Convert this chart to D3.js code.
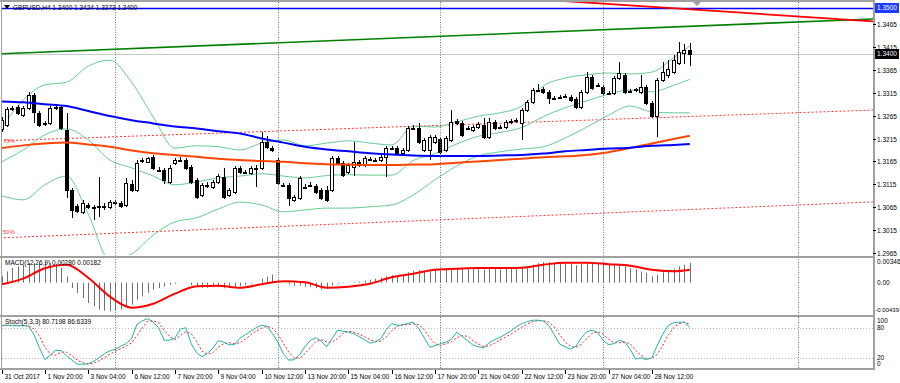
<!DOCTYPE html>
<html>
<head>
<meta charset="utf-8">
<script src="https://d3js.org/d3.v7.min.js"></script>
<style>
body { margin: 0; background: #fff; }
svg { display: block; font-family: "Liberation Sans", Arial, sans-serif; font-size: 6.5px; }
</style>
</head>
<body>
<svg id="chart" width="900" height="383"></svg>
<script>
// ---- data (GBPUSD H4, 31 Oct - 29 Nov 2017) ----
var opens = [1.3236,1.3245,1.3279,1.3284,1.3266,1.3282,1.3310,1.3271,1.3247,1.3249,
 1.3282,1.3284,1.3234,1.3103,1.3068,1.3055,1.3070,1.3066,1.3066,1.3068,
 1.3066,1.3076,1.3074,1.3070,1.3116,1.3103,1.3166,1.3164,1.3175,1.3146,
 1.3147,1.3120,1.3162,1.3168,1.3168,1.3153,1.3125,1.3092,1.3114,1.3109,
 1.3120,1.3131,1.3092,1.3098,1.3151,1.3142,1.3140,1.3151,1.3151,1.3207,
 1.3194,1.3168,1.3114,1.3114,1.3081,1.3085,1.3109,1.3114,1.3111,1.3103,
 1.3103,1.3103,1.3173,1.3162,1.3142,1.3153,1.3164,1.3157,1.3170,1.3168,
 1.3168,1.3175,1.3194,1.3194,1.3183,1.3190,1.3238,1.3238,1.3190,1.3190,
 1.3207,1.3214,1.3190,1.3212,1.3253,1.3249,1.3238,1.3234,1.3240,1.3245,
 1.3218,1.3251,1.3240,1.3240,1.3251,1.3255,1.3249,1.3277,1.3295,1.3321,
 1.3323,1.3317,1.3304,1.3306,1.3308,1.3306,1.3301,1.3284,1.3317,1.3349,
 1.3332,1.3328,1.3314,1.3314,1.3347,1.3354,1.3319,1.3321,1.3317,1.3328,
 1.3293,1.3264,1.3343,1.3354,1.3360,1.3380,1.3402,1.3408];
var highs = [1.3262,1.3284,1.3286,1.3288,1.3286,1.3317,1.3314,1.3275,1.3253,1.3286,
 1.3288,1.3288,1.3271,1.3107,1.3072,1.3081,1.3074,1.3070,1.3131,1.3074,
 1.3081,1.3081,1.3079,1.3129,1.3125,1.3168,1.3173,1.3175,1.3179,1.3153,
 1.3151,1.3157,1.3173,1.3175,1.3173,1.3157,1.3129,1.3118,1.3120,1.3125,
 1.3138,1.3151,1.3107,1.3155,1.3155,1.3146,1.3155,1.3157,1.3229,1.3221,
 1.3199,1.3173,1.3118,1.3118,1.3092,1.3133,1.3116,1.3120,1.3116,1.3107,
 1.3111,1.3177,1.3177,1.3166,1.3162,1.3207,1.3168,1.3177,1.3175,1.3173,
 1.3179,1.3199,1.3199,1.3199,1.3194,1.3242,1.3245,1.3249,1.3216,1.3223,
 1.3223,1.3218,1.3221,1.3277,1.3258,1.3253,1.3242,1.3245,1.3251,1.3260,
 1.3260,1.3256,1.3245,1.3256,1.3258,1.3260,1.3282,1.3299,1.3325,1.3334,
 1.3328,1.3321,1.3308,1.3310,1.3312,1.3310,1.3306,1.3321,1.3360,1.3354,
 1.3336,1.3332,1.3319,1.3352,1.3382,1.3358,1.3323,1.3325,1.3354,1.3332,
 1.3297,1.3347,1.3382,1.3386,1.3397,1.3426,1.3421,1.3424];
var lows = [1.3229,1.3240,1.3275,1.3266,1.3262,1.3277,1.3249,1.3240,1.3242,1.3245,
 1.3277,1.3234,1.3085,1.3042,1.3052,1.3050,1.3061,1.3037,1.3044,1.3059,
 1.3061,1.3070,1.3063,1.3066,1.3098,1.3098,1.3162,1.3162,1.3146,1.3142,
 1.3116,1.3116,1.3157,1.3164,1.3146,1.3116,1.3083,1.3087,1.3107,1.3105,
 1.3116,1.3083,1.3087,1.3094,1.3138,1.3138,1.3135,1.3109,1.3146,1.3192,
 1.3186,1.3114,1.3109,1.3068,1.3076,1.3081,1.3105,1.3109,1.3094,1.3081,
 1.3076,1.3098,1.3157,1.3131,1.3138,1.3133,1.3153,1.3153,1.3166,1.3164,
 1.3164,1.3131,1.3190,1.3179,1.3179,1.3186,1.3234,1.3203,1.3186,1.3168,
 1.3203,1.3181,1.3186,1.3207,1.3245,1.3218,1.3234,1.3229,1.3236,1.3214,
 1.3214,1.3234,1.3236,1.3236,1.3247,1.3249,1.3212,1.3273,1.3290,1.3317,
 1.3312,1.3290,1.3299,1.3301,1.3304,1.3295,1.3279,1.3279,1.3312,1.3321,
 1.3328,1.3310,1.3310,1.3310,1.3343,1.3312,1.3314,1.3317,1.3312,1.3288,
 1.3260,1.3218,1.3338,1.3347,1.3356,1.3376,1.3378,1.3373];
var closes = [1.3255,1.3279,1.3282,1.3271,1.3282,1.3310,1.3273,1.3245,1.3249,1.3282,
 1.3284,1.3238,1.3103,1.3059,1.3057,1.3074,1.3066,1.3064,1.3068,1.3066,
 1.3076,1.3074,1.3068,1.3118,1.3103,1.3162,1.3168,1.3173,1.3151,1.3147,
 1.3125,1.3151,1.3168,1.3167,1.3151,1.3120,1.3087,1.3114,1.3113,1.3120,
 1.3133,1.3087,1.3103,1.3151,1.3142,1.3141,1.3151,1.3150,1.3207,1.3197,
 1.3190,1.3118,1.3113,1.3085,1.3087,1.3129,1.3108,1.3113,1.3098,1.3085,
 1.3081,1.3173,1.3162,1.3135,1.3157,1.3164,1.3157,1.3173,1.3171,1.3167,
 1.3175,1.3194,1.3195,1.3183,1.3190,1.3238,1.3237,1.3207,1.3212,1.3218,
 1.3218,1.3186,1.3216,1.3251,1.3249,1.3223,1.3237,1.3240,1.3247,1.3218,
 1.3251,1.3238,1.3239,1.3251,1.3253,1.3254,1.3277,1.3295,1.3321,1.3320,
 1.3317,1.3304,1.3303,1.3305,1.3307,1.3299,1.3284,1.3317,1.3349,1.3325,
 1.3331,1.3314,1.3315,1.3347,1.3358,1.3317,1.3318,1.3322,1.3328,1.3293,
 1.3264,1.3343,1.3360,1.3367,1.3386,1.3404,1.3408,1.3400];

// indicator lines, read every 4th bar
var lineIdx = [0,4,8,12,16,20,24,28,32,36,40,44,48,52,56,60,64,68,72,76,80,84,88,92,96,100,104,108,112,116,120,124,127];
var maBlue = [1.3296,1.3294,1.3290,1.3286,1.3275,1.3264,1.3255,1.3248,1.3241,1.3237,1.3231,1.3226,1.3215,1.3206,1.3197,1.3191,
 1.3187,1.3183,1.3180,1.3178,1.3177,1.3177,1.3177,1.3178,1.3179,1.3182,1.3187,1.3190,1.3193,1.3195,1.3199,1.3201,1.3203];
var maOrange = [1.3194,1.3200,1.3204,1.3206,1.3202,1.3197,1.3189,1.3183,1.3179,1.3175,1.3171,1.3168,1.3166,1.3164,1.3161,1.3159,
 1.3158,1.3157,1.3157,1.3158,1.3159,1.3162,1.3165,1.3168,1.3171,1.3174,1.3176,1.3179,1.3185,1.3194,1.3204,1.3214,1.3221];
var bbUpper = [1.3238,1.3299,1.3332,1.3338,1.3373,1.3386,1.3338,1.3262,1.3194,1.3199,1.3197,1.3190,1.3205,1.3212,1.3199,1.3205,
 1.3210,1.3205,1.3201,1.3242,1.3240,1.3251,1.3264,1.3271,1.3286,1.3330,1.3347,1.3354,1.3358,1.3356,1.3360,1.3391,1.3417];
var bbMiddle = [1.3164,1.3190,1.3223,1.3236,1.3212,1.3168,1.3151,1.3133,1.3114,1.3120,1.3129,1.3133,1.3138,1.3133,1.3129,1.3134,
 1.3136,1.3135,1.3135,1.3167,1.3182,1.3203,1.3220,1.3228,1.3239,1.3263,1.3282,1.3297,1.3312,1.3321,1.3317,1.3331,1.3344];
var bbLower = [1.3090,1.3081,1.3114,1.3133,1.3050,1.2950,1.2963,1.3004,1.3033,1.3042,1.3061,1.3076,1.3070,1.3055,1.3059,1.3063,
 1.3063,1.3066,1.3070,1.3092,1.3125,1.3155,1.3177,1.3186,1.3192,1.3197,1.3216,1.3240,1.3266,1.3286,1.3273,1.3271,1.3271];
var macdSignal = [-0.00024,0.00056,0.00203,0.00252,0.00070,-0.00196,-0.00351,-0.00295,-0.00154,-0.00049,-0.00042,-0.00070,-0.00021,
 0.00021,0.00007,-0.00070,-0.00056,-0.00014,0.00077,0.00126,0.00182,0.00196,0.00206,0.00206,0.00210,0.00252,0.00280,0.00280,
 0.00259,0.00238,0.00182,0.00161,0.00182];

var macdMain = [0.00088,0.00158,0.00206,0.00229,0.00252,0.00276,0.00276,0.00276,0.00285,0.00276,
 0.00266,0.00206,0.00088,-0.00074,-0.00144,-0.00215,-0.00285,-0.00332,-0.00379,-0.00393,
 -0.00403,-0.00393,-0.00379,-0.00332,-0.00309,-0.00238,-0.00192,-0.00144,-0.00098,-0.00074,
 -0.00052,-0.00028,-0.00014,-0.00004,-0.00007,-0.00035,-0.00056,-0.00070,-0.00070,-0.00063,
 -0.00063,-0.00077,-0.00070,-0.00063,-0.00049,-0.00035,-0.00014,0.00001,0.00056,0.00084,
 0.00112,0.00042,0.00001,-0.00028,-0.00049,-0.00042,-0.00056,-0.00063,-0.00077,-0.00091,
 -0.00084,-0.00042,-0.00014,-0.00007,0.00002,0.00007,0.00014,0.00028,0.00042,0.00056,
 0.00070,0.00091,0.00105,0.00105,0.00112,0.00147,0.00168,0.00175,0.00168,0.00175,
 0.00182,0.00168,0.00182,0.00203,0.00210,0.00196,0.00196,0.00189,0.00196,0.00182,
 0.00196,0.00189,0.00189,0.00196,0.00196,0.00196,0.00210,0.00231,0.00252,0.00273,
 0.00288,0.00288,0.00280,0.00266,0.00273,0.00266,0.00245,0.00266,0.00280,0.00273,
 0.00273,0.00273,0.00266,0.00252,0.00245,0.00231,0.00206,0.00189,0.00158,0.00136,
 0.00088,0.00112,0.00147,0.00182,0.00196,0.00229,0.00252,0.00280];

var stochMain = [85,85,84,84,84,83,66,40,16,25,35,34,24,15,7,7,8,13,20,28,
 34,37,43,48,58,87,94,98,91,80,55,55,59,77,80,48,30,22,29,39,
 54,51,46,46,59,66,73,80,85,83,68,51,28,15,16,26,42,55,60,53,
 42,58,75,73,71,68,62,56,49,52,58,76,88,85,85,89,91,78,60,41,
 44,48,51,57,71,63,54,45,42,40,50,56,61,67,73,82,88,92,95,95,
 93,84,66,47,42,37,43,60,72,75,70,55,46,48,55,51,37,17,20,16,
 20,45,67,84,90,91,91,80.72];
var stochSignal = [84,84,85,84,84,84,78,63,41,27,25,31,31,24,15,10,7,9,14,20,
 27,33,38,43,50,64,80,93,94,90,75,63,56,64,72,68,53,33,27,30,
 41,48,50,48,50,57,66,73,79,83,79,67,49,31,20,19,28,41,52,56,
 52,51,58,69,73,71,67,62,56,52,53,62,74,83,86,86,88,86,76,60,
 48,44,48,52,60,64,63,54,47,42,44,49,56,61,67,74,81,87,92,94,
 94,91,81,66,52,42,41,47,58,69,72,67,57,50,50,51,48,35,25,18,
 19,27,44,65,80,88,91,86.63];

// drawn objects: [bar index, price]
var trendGreen = [[0, 1.3400], [127, 1.3460]];
var trendRed = [[100, 1.3518], [127, 1.3497]];
var channelUpper = [[0, 1.3210], [127, 1.3263]];
var channelLower = [[0, 1.2998], [127, 1.3060]];
var levelLine = 1.3500;
var bidPrice = 1.3400;

var timeLabels = ["31 Oct 2017","1 Nov 20:00","3 Nov 04:00","6 Nov 12:00","7 Nov 20:00","9 Nov 04:00",
 "10 Nov 12:00","13 Nov 20:00","15 Nov 04:00","16 Nov 12:00","17 Nov 20:00","21 Nov 04:00",
 "22 Nov 12:00","23 Nov 20:00","27 Nov 04:00","28 Nov 12:00"];
var weekStarts = [21, 51, 81, 111, 147];
var priceTicks = [1.2965,1.3015,1.3065,1.3115,1.3165,1.3215,1.3265,1.3315,1.3365,1.3415,1.3465];

// ---- layout ----
var width = 900, height = 383;
var plotRight = 873;
var mainTop = 2, mainBottom = 255;
var macdTop = 258, macdBottom = 314;
var stochTop = 317, stochBottom = 368;

var svg = d3.select('#chart');

var x = d3.scaleLinear().domain([0, 127]).range([1.5, 689.8]);
var yMain = d3.scaleLinear().domain([1.2965, 1.3465]).range([253, 24]);
var yMacd = d3.scaleLinear().domain([-0.00439, 0.00346]).range([314, 258]);
var yStoch = d3.scaleLinear().domain([0, 100]).range([367.7, 317.7]);

var defs = svg.append('defs');
function clip(id, y0, y1) {
    defs.append('clipPath').attr('id', id).append('rect')
        .attr('x', 2).attr('y', y0).attr('width', plotRight - 2).attr('height', y1 - y0);
}
clip('cMain', mainTop, mainBottom);
clip('cMacd', macdTop, macdBottom);
clip('cStoch', stochTop, stochBottom);

var gMain = svg.append('g').attr('clip-path', 'url(#cMain)');
var gMacd = svg.append('g').attr('clip-path', 'url(#cMacd)');
var gStoch = svg.append('g').attr('clip-path', 'url(#cStoch)');

// week separators (dotted, through every window)
svg.selectAll('line.grid').data(weekStarts).enter().append('line')
    .attr('x1', function(d) { return Math.round(x(d)) + 0.5; })
    .attr('x2', function(d) { return Math.round(x(d)) + 0.5; })
    .attr('y1', mainTop).attr('y2', stochBottom)
    .attr('stroke', '#707070').attr('stroke-dasharray', '1,1.5');

// bid line and horizontal level
gMain.append('line').attr('x1', 2).attr('x2', plotRight)
    .attr('y1', Math.round(yMain(bidPrice)) + 0.5).attr('y2', Math.round(yMain(bidPrice)) + 0.5)
    .attr('stroke', '#c8c8c8');
gMain.append('line').attr('x1', 2).attr('x2', plotRight)
    .attr('y1', Math.round(yMain(levelLine)) + 0.5).attr('y2', Math.round(yMain(levelLine)) + 0.5)
    .attr('stroke', '#0000ff').attr('stroke-width', 1.3);

// straight objects extended across the window
function ray(pts) {
    var i0 = x.invert(0), i1 = x.invert(plotRight);
    var k = (pts[1][1] - pts[0][1]) / (pts[1][0] - pts[0][0]);
    return [[x(i0), yMain(pts[0][1] + k * (i0 - pts[0][0]))], [x(i1), yMain(pts[0][1] + k * (i1 - pts[0][0]))]];
}
var plain = d3.line();
gMain.append('path').attr('d', plain(ray(channelUpper))).attr('fill', 'none')
    .attr('stroke', '#ff3030').attr('stroke-dasharray', '2,2');
gMain.append('path').attr('d', plain(ray(channelLower))).attr('fill', 'none')
    .attr('stroke', '#ff3030').attr('stroke-dasharray', '2,2');
gMain.append('path').attr('d', plain(ray(trendGreen))).attr('fill', 'none')
    .attr('stroke', '#008000').attr('stroke-width', 1.6);
gMain.append('path').attr('d', plain(ray(trendRed))).attr('fill', 'none')
    .attr('stroke', '#ff0000').attr('stroke-width', 1.8);

gMain.append('text').attr('x', 3).attr('y', yMain(channelUpper[0][1]) + 2)
    .attr('fill', '#ff4040').style('font-size', '6px').text('75%');
gMain.append('text').attr('x', 3).attr('y', yMain(channelLower[0][1]) - 4)
    .attr('fill', '#ff4040').style('font-size', '6px').text('50%');

// bollinger bands
function sampled(values, yScale) {
    return d3.line().curve(d3.curveMonotoneX)
        .x(function(d, i) { return x(lineIdx[i]); })
        .y(function(d) { return yScale(d); })(values);
}
[bbUpper, bbMiddle, bbLower].forEach(function(band) {
    gMain.append('path').attr('d', sampled(band, yMain)).attr('fill', 'none')
        .attr('stroke', '#66cc94').attr('stroke-width', 1);
});

// candles
var bars = d3.range(opens.length).map(function(i) {
    return { i: i, o: opens[i], h: highs[i], l: lows[i], c: closes[i] };
});
var candle = gMain.selectAll('g.candle').data(bars).enter().append('g').attr('class', 'candle')
    .attr('shape-rendering', 'crispEdges');
candle.append('line')
    .attr('x1', function(d) { return Math.round(x(d.i)) + 0.5; })
    .attr('x2', function(d) { return Math.round(x(d.i)) + 0.5; })
    .attr('y1', function(d) { return yMain(d.h); })
    .attr('y2', function(d) { return yMain(d.l); })
    .attr('stroke', '#000');
candle.append('rect')
    .attr('x', function(d) { return Math.round(x(d.i)) - 1.5; })
    .attr('y', function(d) { return Math.round(yMain(Math.max(d.o, d.c))) + 0.5; })
    .attr('width', 3)
    .attr('height', function(d) { return Math.max(1, Math.round(Math.abs(yMain(d.o) - yMain(d.c)))); })
    .attr('fill', function(d) { return d.c >= d.o ? '#fff' : '#000'; })
    .attr('stroke', '#000');

// moving averages
gMain.append('path').attr('d', sampled(maOrange, yMain)).attr('fill', 'none')
    .attr('stroke', '#ff4500').attr('stroke-width', 2);
gMain.append('path').attr('d', sampled(maBlue, yMain)).attr('fill', 'none')
    .attr('stroke', '#0000ff').attr('stroke-width', 2);

// MACD window
gMacd.selectAll('line.hist').data(macdMain).enter().append('line')
    .attr('x1', function(d, i) { return Math.round(x(i)) + 0.5; })
    .attr('x2', function(d, i) { return Math.round(x(i)) + 0.5; })
    .attr('y1', yMacd(0)).attr('y2', function(d) { return yMacd(d); })
    .attr('stroke', '#707070').attr('stroke-width', 1);
gMacd.append('path').attr('d', sampled(macdSignal, yMacd)).attr('fill', 'none')
    .attr('stroke', '#ff0000').attr('stroke-width', 2);

// Stochastic window
[80, 20].forEach(function(v) {
    gStoch.append('line').attr('x1', 2).attr('x2', plotRight)
        .attr('y1', Math.round(yStoch(v)) + 0.5).attr('y2', Math.round(yStoch(v)) + 0.5)
        .attr('stroke', '#b8b8b8').attr('stroke-dasharray', '1,2');
});
var stochLine = function(vals) {
    return d3.line().x(function(d, i) { return x(i); }).y(function(d) { return yStoch(d); })(vals);
};
gStoch.append('path').attr('d', stochLine(stochSignal)).attr('fill', 'none')
    .attr('stroke', '#ff2020').attr('stroke-dasharray', '2,2');
gStoch.append('path').attr('d', stochLine(stochMain)).attr('fill', 'none')
    .attr('stroke', '#20b2aa').attr('stroke-width', 1);

// frames
var frame = svg.append('g').attr('stroke', '#a0a0a0').attr('shape-rendering', 'crispEdges');
frame.append('line').attr('x1', 0).attr('x2', plotRight + 1).attr('y1', 1).attr('y2', 1).attr('stroke-width', 2);
[256.5, 315.5, 369].forEach(function(yy) {
    frame.append('line').attr('x1', 0).attr('x2', plotRight + 1).attr('y1', yy).attr('y2', yy).attr('stroke-width', 2);
});
frame.append('line').attr('x1', 1).attr('x2', 1).attr('y1', 0).attr('y2', 370);
frame.append('line').attr('x1', plotRight + 0.5).attr('x2', plotRight + 0.5).attr('y1', 0).attr('y2', 370).attr('stroke-width', 2);

// price axis
var axisTxt = svg.append('g').attr('fill', '#000');
priceTicks.forEach(function(p) {
    var yy = Math.round(yMain(p)) + 0.5;
    svg.append('line').attr('x1', plotRight).attr('x2', plotRight + 3).attr('y1', yy).attr('y2', yy).attr('stroke', '#000');
    axisTxt.append('text').attr('x', plotRight + 4).attr('y', yy).attr('dy', '0.35em')
        .text(p.toFixed(4));
});
function priceBox(p, bg) {
    var yy = Math.round(yMain(p));
    svg.append('rect').attr('x', plotRight + 2).attr('y', yy - 5).attr('width', 24).attr('height', 10).attr('fill', bg);
    svg.append('text').attr('x', plotRight + 4).attr('y', yy).attr('dy', '0.35em')
        .attr('fill', '#fff').text(p.toFixed(4));
}
priceBox(levelLine, '#1a3cff');
priceBox(bidPrice, '#000');

function sideLabels(vals, scale, top, bottom, fmt) {
    vals.forEach(function(v) {
        var yy = Math.min(bottom - 4, Math.max(top + 4, scale(v)));
        var txt = fmt(v);
        var neg = txt.charAt(0) === '-';
        axisTxt.append('text').attr('x', neg ? 899 : plotRight + 4)
            .attr('text-anchor', neg ? 'end' : 'start')
            .style('font-size', neg ? '6px' : null)
            .attr('y', yy).attr('dy', '0.35em').text(txt);
    });
}
sideLabels([0.00346, 0, -0.00439], yMacd, macdTop, macdBottom, function(v) {
    return v === 0 ? '0.00' : v.toFixed(5);
});
sideLabels([100, 80, 20, 0], yStoch, stochTop, stochBottom, function(v) { return String(v); });

// time axis
timeLabels.forEach(function(t, k) {
    var xx = Math.round(x(k * 8)) + 0.5;
    svg.append('line').attr('x1', xx).attr('x2', xx).attr('y1', 370).attr('y2', 374).attr('stroke', '#000');
    svg.append('text').attr('x', xx + 2).attr('y', 379).text(t);
});

// window captions
svg.append('path').attr('d', 'M4,5 L10,5 L7,9 Z').attr('fill', '#000');
svg.append('text').attr('x', 13).attr('y', 10).text('GBPUSD,H4  1.3400 1.3424 1.3373 1.3400');
svg.append('text').attr('x', 5).attr('y', 265).text('MACD(12,26,9) 0.00280 0.00182');
svg.append('text').attr('x', 5).attr('y', 324).text('Stoch(5,3,3) 80.7198 86.6339');
// chart shift marker
svg.append('path').attr('d', 'M693,2 L701,2 L697,6 Z').attr('fill', '#a0a0a0');
</script>
</body>
</html>
